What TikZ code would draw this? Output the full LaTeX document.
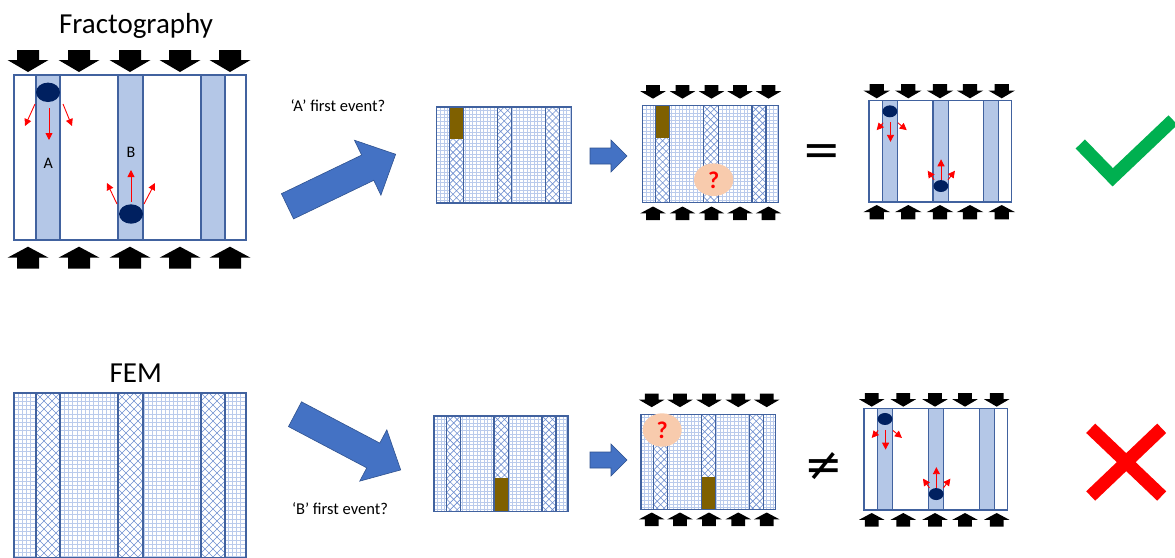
\documentclass[tikz,border=0pt]{standalone}
\usepackage{fontspec}
\setmainfont{Carlito}
\newfontfamily\symfont{DejaVu Sans}
\usetikzlibrary{arrows.meta}
\definecolor{bline}{HTML}{41629F}
\definecolor{stripefill}{HTML}{B4C7E7}
\definecolor{meshc}{HTML}{BACBEC}
\definecolor{hatchc}{HTML}{6F8FD0}
\definecolor{navy}{HTML}{002060}
\definecolor{brownc}{HTML}{7F6000}
\definecolor{peach}{HTML}{F8CBAD}
\definecolor{bigblue}{HTML}{4472C4}
\definecolor{bigblueline}{HTML}{2F528F}
\definecolor{okgreen}{HTML}{00B050}
\tikzset{
 meshline/.style={draw=meshc, line width=0.8pt},
 hatchline/.style={draw=hatchc, line width=0.6pt},
 stripeline/.style={draw=bline, line width=1.3pt},
 boxline/.style={draw=bline, line width=1.3pt},
 redarrow/.style={draw=red, line width=0.9pt, -{Triangle[length=7pt,width=7pt]}},
 loadfill/.style={fill=black},
 bigarrow/.style={fill=bigblue, draw=bigblueline, line width=0.6pt},
 qcircle/.style={fill=peach},
 qmark/.style={text=red, font=\bfseries\fontsize{24}{26}\selectfont},
}
\newcommand\meshpanel[6]{%
\begin{scope}[shift={(#1,#2)},scale=#3]
 \fill[white] (0,0) rectangle (232,165);
 \begin{scope}
  \clip (0,0) rectangle (232,165);
  \draw[meshline] foreach \mi in {0,...,75}{({\mi*#4},0) -- ({\mi*#4},165)};
  \draw[meshline] foreach \mi in {0,...,55}{(0,{\mi*#4}) -- (232,{\mi*#4})};
 \end{scope}
 \foreach \sa/\sb in {22/46,104/129,187/211}{
  \fill[white] (\sa,0) rectangle (\sb,165);
  \begin{scope}
   \clip (\sa,0) rectangle (\sb,165);
   \draw[hatchline] foreach \hk in {-25,...,25}{({\sa+\hk*#5},0) -- ++(165,165) ({\sa+\hk*#5},0) -- ++(-165,165)};
  \end{scope}
 }
 #6
 \draw[stripeline] foreach \sa/\sb in {22/46,104/129,187/211}{(\sa,0) -- (\sa,165) (\sb,0) -- (\sb,165)};
 \draw[boxline] (0,0) rectangle (232,165);
\end{scope}}
\newcommand\fracpanel[4]{%
\begin{scope}[shift={(#1,#2)},scale=#3]
 \fill[white] (0,0) rectangle (232,165);
 \fill[stripefill] foreach \sa/\sb in {22/46,104/129,187/211}{(\sa,0) rectangle (\sb,165)};
 \draw[stripeline] foreach \sa/\sb in {22/46,104/129,187/211}{(\sa,0) -- (\sa,165) (\sb,0) -- (\sb,165)};
 \draw[boxline] (0,0) rectangle (232,165);
 \fill[navy] (34,17.3) ellipse [x radius=12, y radius=9.7];
 \fill[navy] (117,139) ellipse [x radius=12, y radius=9.7];
 #4
\end{scope}}
\newcommand\redbig{%
 \draw[redarrow] (35,33) -- (35,65);
 \draw[redarrow] (21,29) -- (11,51);
 \draw[redarrow] (49,29) -- (58,51);
 \draw[redarrow] (117,127) -- (117,95);
 \draw[redarrow] (103,129) -- (93,108);
 \draw[redarrow] (130,129) -- (141,108);}
\newcommand\redsmall{%
 \draw[redarrow] (35,35) -- (35,67);
 \draw[redarrow] (23,36) -- (12.5,48);
 \draw[redarrow] (47,36) -- (61.5,48);
 \draw[redarrow] (117.3,129) -- (117.3,95.4);
 \draw[redarrow] (106,129) -- (95.6,114);
 \draw[redarrow] (128.7,129) -- (140,114);}
\newcommand\download[3]{%
 \path[loadfill,shift={(#1,#2)},scale=#3] (-11,0) -- (11,0) -- (11,10) -- (20.5,10) -- (0,22) -- (-20.5,10) -- (-11,10) -- cycle;}
\newcommand\upload[3]{%
 \path[loadfill,shift={(#1,#2)},scale=#3] (0,0) -- (20.5,11) -- (11,11) -- (11,22) -- (-11,22) -- (-11,11) -- (-20.5,11) -- cycle;}
\begin{document}
\begin{tikzpicture}[x=1pt,y=-1pt]
\useasboundingbox (0,0) rectangle (1175,557);
\fill[white] (0,0) rectangle (1175,557);
% titles
\node[font=\fontsize{29}{32}\selectfont, anchor=base] (title1) at (136,33.5) {Fractography};
\node[font=\fontsize{29}{32}\selectfont, anchor=base] (title2) at (135.8,382) {FEM};
% main fractography panel
\fracpanel{14}{75}{1}{\redbig}
\foreach \lx in {28,79,130,180,230}{\download{\lx}{50}{1}\upload{\lx}{246.7}{1}}
\node[font=\fontsize{16}{18}\selectfont] (labA) at (48.3,163.3) {A};
\node[font=\fontsize{16}{18}\selectfont] (labB) at (131,152) {B};
% FEM panel
\meshpanel{14}{393}{1}{4.2}{8}{}
% big arrows
\path[bigarrow, shift={(287.5,206.3)}, rotate=25.7] (0,-14) -- (89,-14) -- (89,-30.5) -- (120,0) -- (89,30.5) -- (89,14) -- (0,14) -- cycle;
\path[bigarrow, shift={(295,414.2)}, rotate=-27.8] (0,-14) -- (88.5,-14) -- (88.5,-29) -- (119.5,0) -- (88.5,29) -- (88.5,14) -- (0,14) -- cycle;
\node[font=\fontsize{16.5}{18}\selectfont] (evA) at (338,106) {‘A’ first event?};
\node[font=\fontsize{16.5}{18}\selectfont] (evB) at (340,509) {‘B’ first event?};
% top row
\meshpanel{436.7}{107}{0.582}{6.2}{12}{\fill[brownc] (22,0) rectangle (46,55.5);}
\path[bigarrow] (590,148) -- (611,148) -- (611,140) -- (627,156) -- (611,172) -- (611,164) -- (590,164) -- cycle;
\meshpanel{642.7}{105.7}{0.585}{6.2}{12}{\fill[brownc] (22,0) rectangle (46,55.5);}
\foreach \lx in {653,682.5,711.5,740,768.5}{\download{\lx}{85}{0.62}\upload{\lx}{206.5}{0.62}}
\path[qcircle] (713.7,179.7) ellipse [x radius=19.7, y radius=16.3];
\node[qmark] (q1) at (713.7,180) {?};
\node[font=\symfont\fontsize{46}{50}\selectfont] (eq) at (822,155) {=};
\fracpanel{869}{100.7}{0.614}{\redsmall}
\foreach \lx in {876.7,908.3,940,970,1001.7}{\download{\lx}{84}{0.65}\upload{\lx}{205}{0.65}}
\draw[okgreen, line width=13pt, line join=miter] (1080.3,144) -- (1112.7,177.3) -- (1173,120);
% bottom row
\meshpanel{434}{416}{0.578}{6.2}{12}{\fill[brownc] (104,108) rectangle (129,165);}
\path[bigarrow] (590,452) -- (611,452) -- (611,444) -- (627,460) -- (611,476) -- (611,468) -- (590,468) -- cycle;
\meshpanel{641}{414.3}{0.579}{6.2}{12}{\fill[brownc] (104,108) rectangle (129,165);}
\foreach \lx in {651.7,680,709,738.3,766.7}{\download{\lx}{393.5}{0.62}\upload{\lx}{512.5}{0.62}}
\path[qcircle] (662.2,430) ellipse [x radius=19.5, y radius=16.7];
\node[qmark] (q2) at (662.2,430.3) {?};
\node[font=\symfont\fontsize{46}{50}\selectfont] (neq) at (824,467) {≠};
\fracpanel{864}{408.3}{0.617}{\redsmall}
\foreach \lx in {871.7,903.3,935,965,996.7}{\download{\lx}{393}{0.62}\upload{\lx}{513}{0.62}}
\draw[red, line width=13pt] (1090.7,428.3) -- (1161.7,496) (1161.7,428.3) -- (1090.7,496);
\end{tikzpicture}
\end{document}
